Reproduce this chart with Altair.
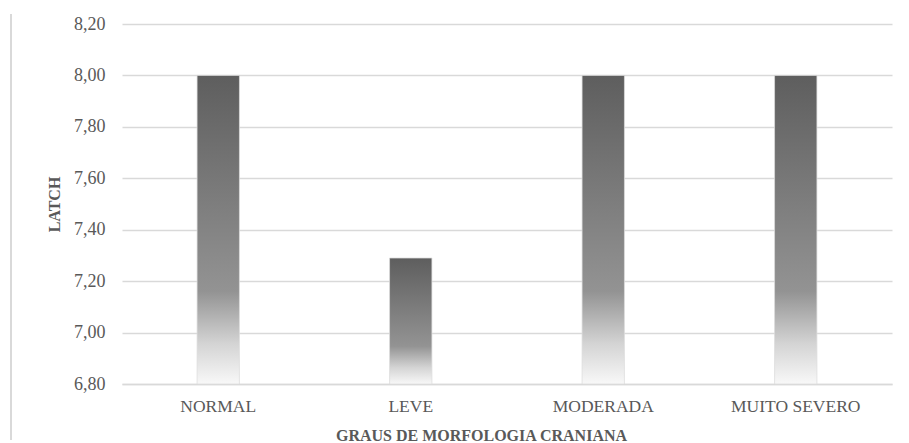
import altair as alt
import pandas as pd

categories = ["NORMAL", "LEVE", "MODERADA", "MUITO SEVERO"]
latch = [8.00, 7.29, 8.00, 8.00]
y_ticks = [6.8, 7.0, 7.2, 7.4, 7.6, 7.8, 8.0, 8.2]

df = pd.DataFrame({"grau": categories, "latch": latch})

FONT = "Liberation Serif"
GREY = "#595959"

gradient = {
    "gradient": "linear",
    "x1": 0, "y1": 0, "x2": 0, "y2": 1,
    "stops": [
        {"offset": 0.0, "color": "#5e5e5e"},
        {"offset": 0.70, "color": "#939393"},
        {"offset": 0.87, "color": "#d4d4d4"},
        {"offset": 1.0, "color": "#f8f8f8"},
    ],
}

bars = alt.Chart(df).mark_bar(
    fill=gradient, stroke="#dcdcdc", strokeWidth=0.75
).encode(
    x=alt.X(
        "grau:N",
        sort=categories,
        scale=alt.Scale(paddingInner=0.78, paddingOuter=0.39),
        axis=alt.Axis(
            title="GRAUS DE MORFOLOGIA CRANIANA",
            labelAngle=0,
            labelFont=FONT,
            labelFontSize=17.5,
            labelColor=GREY,
            labelPadding=13,
            ticks=False,
            domainColor="#d9d9d9",
            domainWidth=1.5,
            titleFont=FONT,
            titleFontSize=16,
            titleFontWeight="bold",
            titleColor=GREY,
            titleX=359,
            titleY=56,
            titleAlign="center",
            titleBaseline="alphabetic",
        ),
    ),
    y=alt.Y(
        "latch:Q",
        scale=alt.Scale(domain=[6.8, 8.2], zero=False, nice=False),
        axis=alt.Axis(
            title="LATCH",
            values=y_ticks,
            labelExpr="replace(format(datum.value, '.2f'), '.', ',')",
            labelFont=FONT,
            labelFontSize=18,
            labelColor=GREY,
            labelPadding=17,
            ticks=False,
            domain=False,
            gridColor="#d9d9d9",
            gridWidth=1.5,
            titleFont=FONT,
            titleFontSize=16,
            titleFontWeight="bold",
            titleColor=GREY,
            titlePadding=11,
        ),
    ),
    y2=alt.datum(6.8),
)

border = alt.Chart(df).mark_rule(color="#d9d9d9", strokeWidth=1.5).encode(
    x=alt.value(-111),
    y=alt.value(-10),
    y2=alt.value(416),
)

chart = alt.layer(bars, border).properties(
    width=770,
    height=360,
    autosize=alt.AutoSizeParams(type="none"),
    padding={"left": 122, "top": 24, "right": 17, "bottom": 59},
).configure_view(stroke=None)

chart.save("out.html", embed_options={"renderer": "svg", "actions": False})
